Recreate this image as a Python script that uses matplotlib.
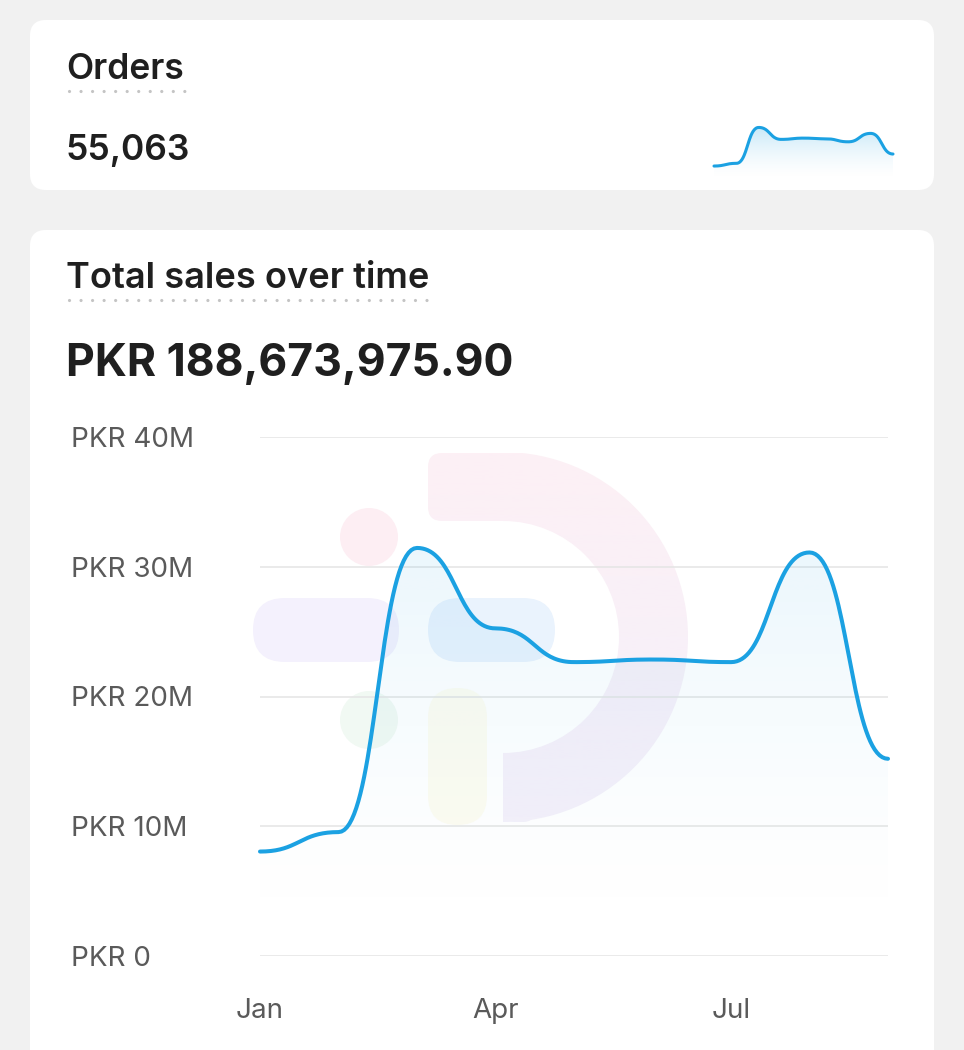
import numpy as np
import matplotlib.pyplot as plt
from matplotlib.colors import to_rgb
from matplotlib.patches import FancyBboxPatch, Circle, Wedge, Polygon

plt.rcParams['font.family'] = ['Inter', 'DejaVu Sans']

# data
months = ['Jan', 'Feb', 'Mar', 'Apr', 'May', 'Jun', 'Jul', 'Aug', 'Sep']
sales_m = [8.05, 9.55, 31.45, 25.25, 22.65, 22.85, 22.65, 31.1, 15.2]  # PKR millions
orders = [2420, 2890, 9110, 7040, 7260, 7140, 6620, 8080, 4503]
total_sales = 188673975.90
total_orders = 55063
y_ticks = [0, 10, 20, 30, 40]
x_tick_idx = [0, 3, 6]

LINE = '#1ba1e2'
TXT = '#1f1f1f'
W, H = 964, 1050


def step_rounded(y, n=40):
    # flat at every point, s-shaped bezier between two points
    xs, ys = [], []
    for i in range(len(y) - 1):
        t = np.linspace(0, 1, n)
        xm = i + 0.5
        bx = (1-t)**3*i + 3*(1-t)**2*t*xm + 3*(1-t)*t**2*xm + t**3*(i+1)
        by = ((1-t)**3 + 3*(1-t)**2*t)*y[i] + (3*(1-t)*t**2 + t**3)*y[i+1]
        xs.append(bx)
        ys.append(by)
    return np.concatenate(xs), np.concatenate(ys)


def area_line(ax, vals, ymax, lw, a_top):
    xs, ys = step_rounded(vals)
    grad = np.linspace(1, 0, 256)
    rgba = np.zeros((256, 1, 4))
    rgba[..., :3] = to_rgb(LINE)
    rgba[:, 0, 3] = a_top * grad**1.6
    im = ax.imshow(rgba, extent=[0, len(vals)-1, 0, ymax], aspect='auto',
                   origin='upper', zorder=1)
    pts = np.vstack([np.column_stack([xs, ys]), [[xs[-1], 0], [xs[0], 0]]])
    clip = Polygon(pts, closed=True, facecolor='none', edgecolor='none')
    ax.add_patch(clip)
    im.set_clip_path(clip)
    ax.plot(xs, ys, color=LINE, lw=lw, solid_capstyle='round', zorder=3, clip_on=False)
    ax.set_xlim(0, len(vals)-1)
    ax.set_ylim(0, ymax)


def gradient_patch(bg, patch, c_top, c_bot, y0, y1):
    patch.set_facecolor('none')
    patch.set_edgecolor('none')
    bg.add_patch(patch)
    g = np.linspace(0, 1, 256)[:, None, None]
    rgba = np.ones((256, 1, 4))
    rgba[..., :3] = (1-g)*np.array(to_rgb(c_top)) + g*np.array(to_rgb(c_bot))
    im = bg.imshow(rgba, extent=[0, W, y1, y0], aspect='auto', origin='upper', zorder=2)
    im.set_clip_path(patch)


def pill(bg, x, y, w, h, color):
    bg.add_patch(FancyBboxPatch((x, y), w, h, boxstyle=f'round,pad=0,rounding_size={min(w, h)/2}',
                                facecolor=color, edgecolor='none', zorder=2))


fig = plt.figure(figsize=(W/100, H/100), dpi=100, facecolor='#f1f1f1')

# background layer in pixel coordinates
bg = fig.add_axes([0, 0, 1, 1])
bg.set_xlim(0, W)
bg.set_ylim(H, 0)
bg.axis('off')
bg.patch.set_alpha(0)

for (x, y, w, h) in [(30, 20, 904, 170), (30, 230, 904, 900)]:
    bg.add_patch(FancyBboxPatch((x, y), w, h, boxstyle='round,pad=0,rounding_size=16',
                                facecolor='white', edgecolor='none', zorder=1))

# faint logo watermark behind the chart
bg.add_patch(Circle((369, 537), 29, facecolor='#fdeef3', edgecolor='none', zorder=2))
bg.add_patch(Circle((369, 720), 29, facecolor='#f1f9f3', edgecolor='none', zorder=2))
pill(bg, 253, 598, 146, 64, '#f4f1fd')
pill(bg, 428, 598, 127, 64, '#eaf3fd')
pill(bg, 428, 688, 59, 137, '#fdfcf1')
for p in [FancyBboxPatch((428, 453), 100, 68, boxstyle='round,pad=0,rounding_size=14'),
          Wedge((503, 637), 185, -90, 90, width=69),
          FancyBboxPatch((505, 753), 30, 69, boxstyle='round,pad=0,rounding_size=12')]:
    gradient_patch(bg, p, '#fdf0f5', '#f4f0fb', 453, 822)

# header texts
dots = dict(color='#c4c4c4', lw=2.3, linestyle=(0, (0.01, 3.6)), dash_capstyle='round')
bg.text(66, 79, 'Orders', fontsize=25.5, fontweight=600, color=TXT, va='baseline')
bg.plot([69, 190], [91, 91], **dots)
bg.text(66, 160, f'{total_orders:,}', fontsize=25.5, fontweight=600, color=TXT,
        va='baseline')
bg.text(66, 288, 'Total sales over time', fontsize=26, fontweight=600, color=TXT,
        va='baseline')
bg.plot([69, 429], [300, 300], **dots)
bg.text(66, 376, f'PKR {total_sales:,.2f}', fontsize=32, fontweight='bold', color=TXT,
        va='baseline')

# sparkline in the orders card
sp = fig.add_axes([714/W, 1 - 180/H, (893-714)/W, 60/H])
sp.axis('off')
sp.patch.set_alpha(0)
area_line(sp, orders, 10400, 2.2, 0.3)

# main chart
ax = fig.add_axes([260/W, 1 - 956/H, (888-260)/W, (956-437)/H])
ax.patch.set_alpha(0)
for s in ax.spines.values():
    s.set_visible(False)
for v in y_ticks:
    ax.axhline(v, color='#e6e6e6', lw=1.2, zorder=0)
area_line(ax, sales_m, 40, 2.9, 0.13)

ax.set_yticks(y_ticks)
ax.set_yticklabels(['PKR 0' if v == 0 else f'PKR {v}M' for v in y_ticks])
ax.set_xticks(x_tick_idx)
ax.set_xticklabels([months[i] for i in x_tick_idx])
ax.tick_params(axis='y', length=0, pad=136, labelsize=20, labelcolor='#5a5a5a')
ax.tick_params(axis='x', length=0, pad=30, labelsize=20, labelcolor='#5a5a5a')
for lab in ax.get_yticklabels():
    lab.set_ha('left')

fig.savefig('out.png', dpi=100, facecolor=fig.get_facecolor())
